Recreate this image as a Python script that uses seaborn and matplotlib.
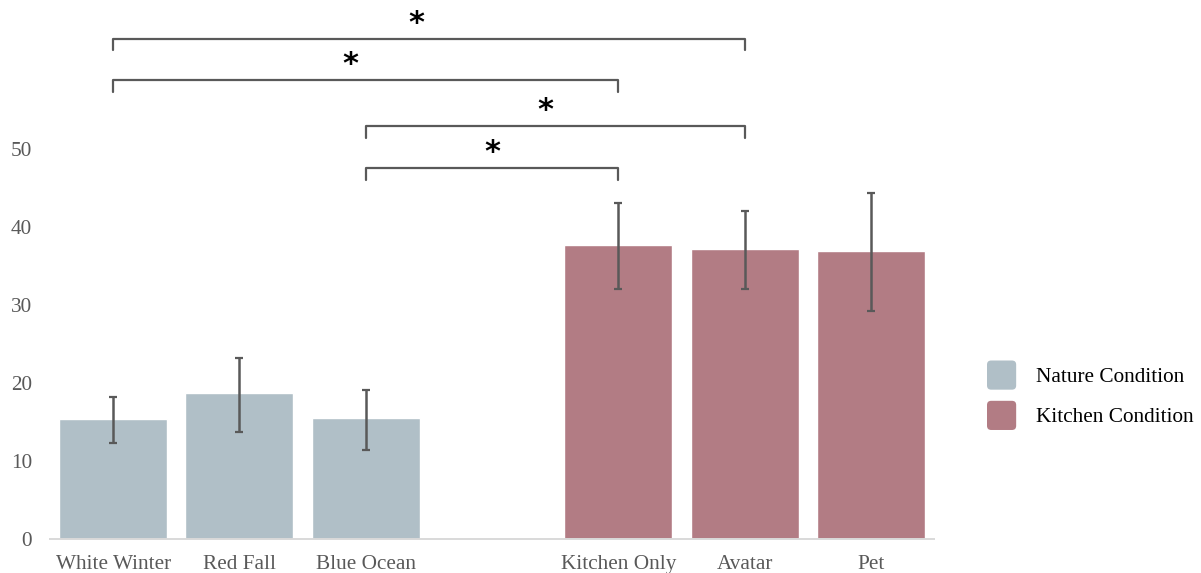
import matplotlib
matplotlib.use("Agg")
import matplotlib.pyplot as plt
from matplotlib.patches import Patch, FancyBboxPatch
from matplotlib.legend_handler import HandlerPatch
import seaborn as sns
import pandas as pd
import numpy as np

# Mean scores per scene with the lower / upper ends of the error bars
categories = ["White Winter", "Red Fall", "Blue Ocean", "Kitchen Only", "Avatar", "Pet"]
conditions = ["Nature Condition"] * 3 + ["Kitchen Condition"] * 3
means = [15.4, 18.7, 15.5, 37.7, 37.2, 36.9]
err_low = [12.3, 13.8, 11.4, 32.1, 32.1, 29.3]
err_high = [18.2, 23.3, 19.2, 43.1, 42.1, 44.4]

# Significant pairwise comparisons: (left, right, bracket height)
comparisons = [
    ("White Winter", "Avatar", 64.2),
    ("White Winter", "Kitchen Only", 58.9),
    ("Blue Ocean", "Avatar", 53.0),
    ("Blue Ocean", "Kitchen Only", 47.6),
]
star_shift = [-0.10, -0.12, -0.08, 0.0]

palette = {"Nature Condition": "#b0bfc7", "Kitchen Condition": "#b27c84"}
text_grey = "#595959"
fs = 15.3

df = pd.DataFrame({"scene": categories, "condition": conditions, "score": means})
order = categories[:3] + [" "] + categories[3:]

sns.set_theme(style="white")
plt.rcParams["font.family"] = ["Liberation Serif", "DejaVu Serif"]

fig = plt.figure(figsize=(12.01, 5.73), dpi=100)
ax = fig.add_axes([50 / 1201, (573 - 539.3) / 573, 884 / 1201, 530.4 / 573])

sns.barplot(data=df, x="scene", y="score", hue="condition", order=order,
            palette=palette, dodge=False, width=0.855, errorbar=None,
            saturation=1, legend=False, ax=ax)

pos = {name: i for i, name in enumerate(order)}
xs = np.array([pos[c] for c in categories])
m = np.array(means)
yerr = np.vstack([m - np.array(err_low), np.array(err_high) - m])
ax.errorbar(xs, m, yerr=yerr, fmt="none", ecolor=text_grey, elinewidth=1.8,
            capsize=3.0, capthick=1.6, zorder=5)

# Significance brackets
for (a, b, h), shift in zip(comparisons, star_shift):
    xa, xb = pos[a], pos[b]
    ax.plot([xa, xa, xb, xb], [h - 1.5, h, h, h - 1.5], color=text_grey,
            lw=1.6, solid_joinstyle="round", clip_on=False, zorder=6)
    ax.text((xa + xb) / 2 + shift, h + 0.9, "*", ha="center", va="baseline",
            fontsize=22, fontweight="bold", family="DejaVu Sans",
            color="black", clip_on=False)

ax.set_xlim(-0.5, 6.5)
ax.set_ylim(0, 68)
ax.set_yticks([0, 10, 20, 30, 40, 50])
ax.set_xlabel("")
ax.set_ylabel("")
for s in ["top", "right", "left"]:
    ax.spines[s].set_visible(False)
ax.spines["bottom"].set_color("#d9d9d9")
ax.spines["bottom"].set_linewidth(1.4)
ax.tick_params(axis="y", length=0, pad=13, labelsize=fs, labelcolor=text_grey)
ax.tick_params(axis="x", length=0, pad=11, labelsize=fs, labelcolor=text_grey)
ax.grid(False)


class RoundSquareHandler(HandlerPatch):
    def create_artists(self, legend, orig_handle, xdescent, ydescent,
                       width, height, fontsize, trans):
        s = 21.0  # side of the swatch in points
        p = FancyBboxPatch((-xdescent, -ydescent + (height - s) / 2), s, s,
                           boxstyle="round,pad=0,rounding_size=3",
                           facecolor=orig_handle.get_facecolor(),
                           edgecolor="none", transform=trans)
        return [p]


handles = [Patch(facecolor=palette[k], label=k) for k in palette]
fig.legend(handles=handles, loc="upper left",
           bbox_to_anchor=(987 / 1201, 1 - 363 / 573),
           handler_map={Patch: RoundSquareHandler()},
           frameon=False, fontsize=fs, handlelength=21.0 / fs, handleheight=21.0 / fs,
           handletextpad=0.95, labelspacing=0.76, borderpad=0, borderaxespad=0,
           labelcolor="black")

fig.savefig("out.png", dpi=100)
